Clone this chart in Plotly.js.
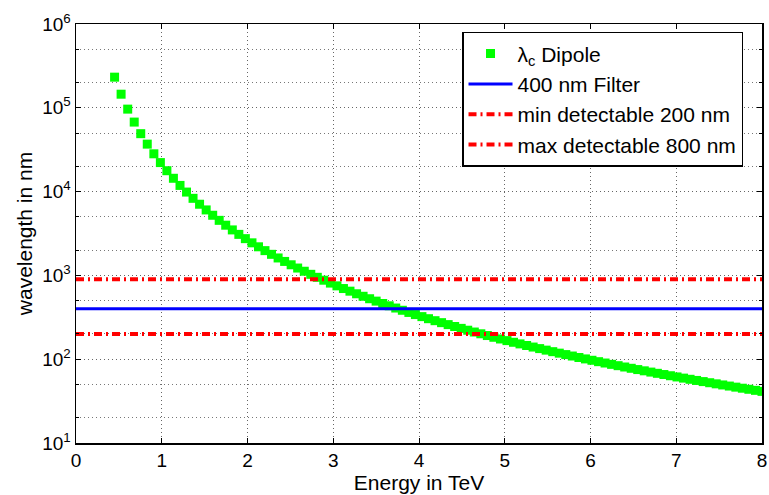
<!DOCTYPE html>
<html>
<head>
<meta charset="utf-8">
<script src="https://cdn.plot.ly/plotly-3.0.1.min.js"></script>
<style>html,body{margin:0;padding:0;background:#fff;}#chart{width:769px;height:495px;}</style>
</head>
<body>
<div id="chart"></div>
<script>
// Energy in TeV
const energy = [0.450,0.526,0.603,0.679,0.755,0.831,0.908,0.984,1.060,1.136,1.213,1.289,1.365,1.441,1.518,1.594,1.670,1.746,1.823,1.899,1.975,2.052,2.128,2.204,2.280,2.357,2.433,2.509,2.585,2.662,2.738,2.814,2.890,2.967,3.043,3.119,3.195,3.272,3.348,3.424,3.500,3.577,3.653,3.729,3.806,3.882,3.958,4.034,4.111,4.187,4.263,4.340,4.416,4.492,4.568,4.645,4.721,4.797,4.873,4.950,5.026,5.102,5.178,5.255,5.331,5.407,5.483,5.560,5.636,5.712,5.788,5.865,5.941,6.017,6.094,6.170,6.246,6.322,6.399,6.475,6.551,6.627,6.704,6.780,6.856,6.932,7.009,7.085,7.161,7.237,7.314,7.390,7.466,7.542,7.619,7.695,7.771,7.847,7.924,8.000];
// critical wavelength in nm
const lambdaC = [232100,145300,96440,67550,49130,36850,28250,22190,17750,14420,11850,9873,8314,7067,6045,5221,4540,3973,3490,3088,2745,2447,2194,1975,1784,1615,1468,1339,1224,1121,1030,949.0,876.1,809.6,750.5,696.9,648.4,603.7,563.5,526.8,493.2,462.0,433.8,407.8,383.6,361.5,341.0,322.1,304.4,288.1,272.9,258.7,245.6,233.3,221.8,211.0,201.0,191.6,182.7,174.3,166.6,159.2,152.3,145.7,139.6,133.8,128.3,123.0,118.1,113.5,109.1,104.8,100.8,97.07,93.44,90.03,86.78,83.69,80.70,77.90,75.21,72.66,70.18,67.85,65.62,63.48,61.41,59.46,57.58,55.79,54.05,52.40,50.81,49.29,47.81,46.41,45.06,43.76,42.50,41.30];
// horizontal reference lines
const lineX = [0, 8];
const filterNm = [400, 400];
const minDetNm = [200, 200];
const maxDetNm = [900, 900];
const yTickVals = [10, 100, 1000, 10000, 100000, 1000000];
const yTickText = ['10<sup>1</sup>','10<sup>2</sup>','10<sup>3</sup>','10<sup>4</sup>','10<sup>5</sup>','10<sup>6</sup>'];
const xTickVals = [0,1,2,3,4,5,6,7,8];

const FONT = 'Liberation Sans, Arial, Helvetica, sans-serif';
const redDash = '8px,4px,2px,4px';

const traces = [
  {x: energy, y: lambdaC, type: 'scatter', mode: 'markers', name: 'λ<sub>c</sub> Dipole',
   marker: {symbol: 'square', size: 9, color: '#00ff00', line: {width: 0}}},
  {x: lineX, y: filterNm, type: 'scatter', mode: 'lines', name: '400 nm Filter',
   line: {color: '#0000ff', width: 3}},
  {x: lineX, y: minDetNm, type: 'scatter', mode: 'lines', name: 'min detectable 200 nm',
   line: {color: '#ff0000', width: 4, dash: redDash}},
  {x: lineX, y: maxDetNm, type: 'scatter', mode: 'lines', name: 'max detectable 800 nm',
   line: {color: '#ff0000', width: 4, dash: redDash}}
];

const gridDot = '1px,3px';
const layout = {
  width: 769, height: 495,
  margin: {l: 76, r: 7, t: 24, b: 52},
  paper_bgcolor: '#fff', plot_bgcolor: '#fff',
  font: {family: FONT, size: 19, color: '#000'},
  showlegend: true,
  legend: {x: 0.5627, y: 0.981, xanchor: 'left', yanchor: 'top',
    bgcolor: '#fff', bordercolor: '#000', borderwidth: 1.5,
    font: {family: FONT, size: 21, color: '#000'}, tracegroupgap: 0, itemwidth: 44},
  xaxis: {range: [0, 8], tickvals: xTickVals, ticks: 'inside', ticklen: 5, tickcolor: '#000',
    showline: true, linecolor: '#000', linewidth: 1.5, mirror: 'allticks',
    showgrid: true, gridcolor: '#666', gridwidth: 1, griddash: gridDot, zeroline: false,
    tickfont: {family: FONT, size: 19},
    title: {text: 'Energy in TeV', font: {family: FONT, size: 21}, standoff: 1}},
  yaxis: {type: 'log', range: [1, 6], tickvals: yTickVals, ticktext: yTickText,
    ticks: 'inside', ticklen: 5, tickcolor: '#000',
    showline: true, linecolor: '#000', linewidth: 1.5, mirror: 'allticks',
    showgrid: true, gridcolor: '#666', gridwidth: 1, griddash: gridDot, zeroline: false,
    tickfont: {family: FONT, size: 19},
    minor: {ticks: 'inside', ticklen: 3, tickcolor: '#000', showgrid: true, gridcolor: '#777', griddash: gridDot, gridwidth: 1},
    title: {text: 'wavelength in nm', font: {family: FONT, size: 21}, standoff: 4}}
};

Plotly.newPlot('chart', traces, layout, {staticPlot: true, displayModeBar: false});
</script>
</body>
</html>
